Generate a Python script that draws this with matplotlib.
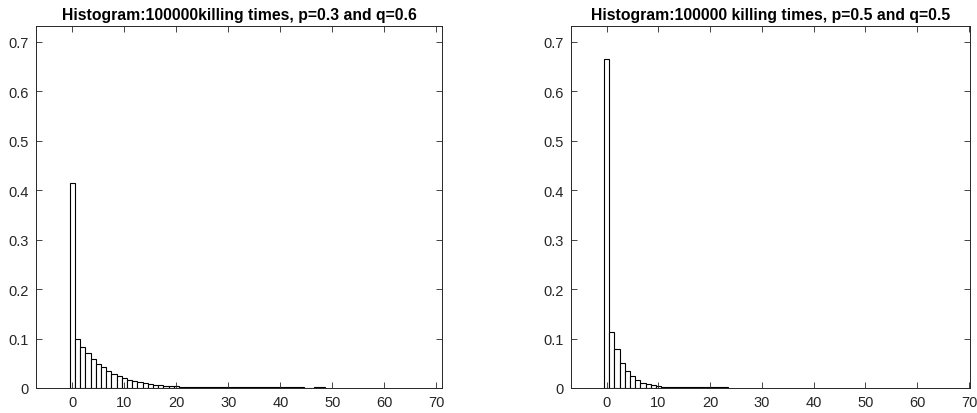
import matplotlib
matplotlib.use("Agg")
import matplotlib.pyplot as plt
import numpy as np

plt.rcParams['font.family'] = ['Liberation Sans', 'DejaVu Sans']

# Left histogram: p=0.3, q=0.6
left_bins = list(range(0, 49))
left_vals = [0.415, 0.099, 0.082, 0.070, 0.058, 0.048, 0.042, 0.035, 0.028, 0.024,
             0.020, 0.017, 0.014, 0.013, 0.010, 0.008, 0.007, 0.006, 0.005, 0.004,
             0.004, 0.003, 0.0028, 0.0026, 0.0025, 0.0024, 0.0023, 0.0022, 0.0021, 0.0021,
             0.0020, 0.0020, 0.0020, 0.0020, 0.0020, 0.0020, 0.0020, 0.0020, 0.0020, 0.0020,
             0.0020, 0.0020, 0.0020, 0.0020, 0.0020, 0.0, 0.0, 0.0020, 0.0020]
left_title = "Histogram:100000killing times, p=0.3 and q=0.6"

# Right histogram: p=0.5, q=0.5
right_bins = list(range(0, 24))
right_vals = [0.665, 0.113, 0.078, 0.050, 0.035, 0.025, 0.016, 0.011, 0.008, 0.006,
              0.005, 0.003, 0.0028, 0.0026, 0.0024, 0.0022, 0.0021, 0.0020, 0.0020, 0.0020,
              0.0020, 0.0020, 0.0020, 0.0020]
right_title = "Histogram:100000 killing times, p=0.5 and q=0.5"

xticks = [0, 10, 20, 30, 40, 50, 60, 70]
yticks = [0, 0.1, 0.2, 0.3, 0.4, 0.5, 0.6, 0.7]
ytick_labels = ["0", "0.1", "0.2", "0.3", "0.4", "0.5", "0.6", "0.7"]

W, H = 978, 414
fig = plt.figure(figsize=(W / 100, H / 100), dpi=100)
axc = (0.15, 0.15, 0.15)

def make_ax(rect, bins, vals, title, xlim):
    ax = fig.add_axes(rect)
    ax.bar(bins, vals, width=1.0, color='white', edgecolor='black', linewidth=0.8)
    ax.set_xlim(*xlim)
    ax.set_ylim(0, 0.7315)
    ax.set_xticks(xticks)
    ax.set_yticks(yticks)
    ax.set_yticklabels(ytick_labels)
    ax.tick_params(direction='in', length=4, width=0.6, colors=axc, labelsize=10.5,
                   top=True, right=True, pad=5)
    for s in ax.spines.values():
        s.set_color(axc)
        s.set_linewidth(0.7)
    ax.set_title(title, fontsize=11.3, fontweight='bold', pad=5)
    return ax

bottom = (H - 389) / H
height = (389 - 27) / H
make_ax([36 / W, bottom, (442 - 36) / W, height], left_bins, left_vals, left_title, (-7, 71.1))
make_ax([571 / W, bottom, (970 - 571) / W, height], right_bins, right_vals, right_title, (-6.9, 70.2))

fig.savefig("out.png", dpi=100)
